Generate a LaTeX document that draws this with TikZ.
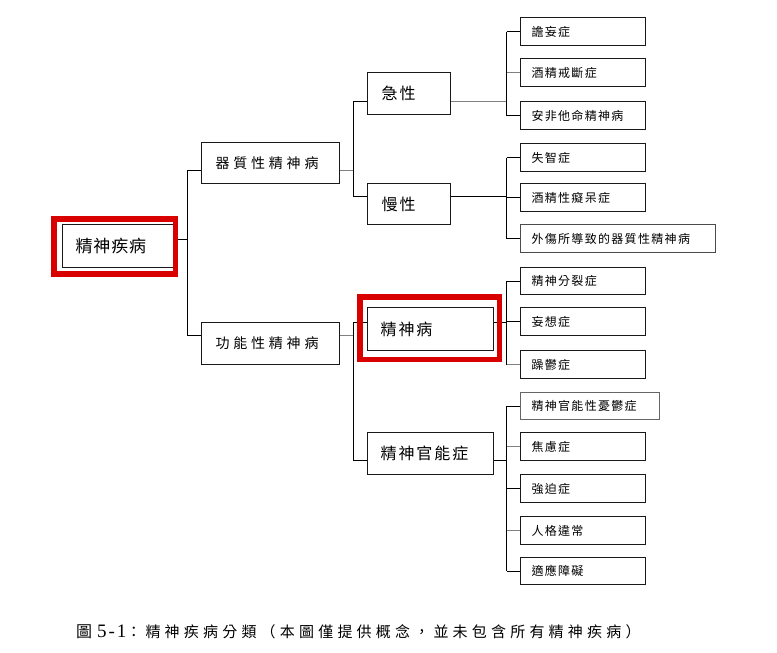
\documentclass[tikz,border=0pt]{standalone}
\usepackage{fontspec}
\newfontfamily\fRoot[LetterSpace=5]{Noto Sans CJK TC}
\newfontfamily\fOne[LetterSpace=27]{Noto Sans CJK TC}
\newfontfamily\fTwo[LetterSpace=12]{Noto Sans CJK TC}
\newfontfamily\fLeaf[LetterSpace=11]{Noto Sans CJK TC}
\newfontfamily\fCap[LetterSpace=28]{Noto Sans CJK TC}
\newfontfamily\fCapA{Noto Sans CJK TC}
\newfontfamily\fNum[LetterSpace=10]{Liberation Serif}
\begin{document}
\begin{tikzpicture}[x=1pt,y=-1pt,
  box/.style={draw=black!90, line width=1.2pt, anchor=north west, inner ysep=0pt, align=left},
  rootbox/.style={box, inner xsep=13pt, text width=86pt, minimum height=43pt, font=\fRoot\fontsize{17}{20}\selectfont},
  onebox/.style={box, inner xsep=14pt, text width=110pt, minimum height=41pt, font=\fOne\fontsize{14}{17}\selectfont},
  twobox/.style={box, inner xsep=14pt, text width=55pt, minimum height=42pt, font=\fTwo\fontsize{16}{19}\selectfont},
  twowide/.style={twobox, inner xsep=13pt, text width=100pt},
  leafbox/.style={box, line width=1pt, inner xsep=11pt, text width=103pt, minimum height=28pt, font=\fLeaf\fontsize{12}{14}\selectfont},
  link/.style={draw=black, line width=0.9pt},
  glink/.style={draw=black!50, line width=0.9pt},
  hl/.style={draw=red!85!black, line width=5.5pt}
]
\useasboundingbox[fill=white] (0,0) rectangle (777,653);

% root and level 1
\node[rootbox] (root) at (62,224) {精神疾病};
\node[onebox] (l1a) at (201,142) {器質性精神病};
\node[onebox, minimum height=42pt] (l1b) at (201,322) {功能性精神病};

% level 2
\node[twobox] (a) at (367,72) {急性};
\node[twobox, minimum height=41pt] (b) at (367,183) {慢性};
\node[twowide, minimum height=43pt] (c) at (367,307) {精神病};
\node[twowide] (d) at (367,432) {精神官能症};

% leaves
\node[leafbox] (a1) at (520,17) {譫妄症};
\node[leafbox] (a2) at (520,58) {酒精戒斷症};
\node[leafbox] (a3) at (520,101) {安非他命精神病};
\node[leafbox] (b1) at (520,143) {失智症};
\node[leafbox] (b2) at (520,183) {酒精性癡呆症};
\node[leafbox, text width=173pt, draw=black!70] (b3) at (520,224) {外傷所導致的器質性精神病};
\node[leafbox, minimum height=27pt] (c1) at (520,267) {精神分裂症};
\node[leafbox] (c2) at (520,307) {妄想症};
\node[leafbox] (c3) at (520,350) {躁鬱症};
\node[leafbox, text width=117pt, minimum height=27pt, draw=black!60] (d1) at (520,392) {精神官能性憂鬱症};
\node[leafbox] (d2) at (520,432) {焦慮症};
\node[leafbox] (d3) at (520,474) {強迫症};
\node[leafbox] (d4) at (520,516) {人格違常};
\node[leafbox, minimum height=27pt] (d5) at (520,557) {適應障礙};

% junction coordinates
\coordinate (j0) at (187,239);
\coordinate (j0t) at (187,170);
\coordinate (j0b) at (187,335);
\coordinate (j1t) at (353.3,101.7);
\coordinate (j1b) at (353.3,196.7);
\coordinate (j2t) at (353.3,322);
\coordinate (j2b) at (353.3,460);
\coordinate (ja) at (506.7,101.7);
\coordinate (jb) at (506.7,196.7);
\coordinate (jc) at (506.7,322);
\coordinate (jd) at (506.7,460);

% root connectors
\draw[link] (root.east|-j0) -- (j0);
\draw[link] (j0t) -- (j0b);
\draw[link] (j0t) -- (l1a.west|-j0t);
\draw[link] (j0b) -- (l1b.west|-j0b);

% level 1 connectors
\draw[glink] (l1a.east|-j0t) -- (j0t-|j1t);
\draw[link] (j1t) -- (j1b);
\draw[link] (j1t) -- (a.west|-j1t);
\draw[link] (j1b) -- (b.west|-j1b);
\draw[glink] (l1b.east|-j0b) -- (j0b-|j2t);
\draw[link] (j2t) -- (j2b);
\draw[link] (j2t) -- (c.west|-j2t);
\draw[link] (j2b) -- (d.west|-j2b);

% level 2 connectors
\draw[glink] (a.east|-ja) -- (ja);
\draw[link] (ja|-a1.west) -- (ja|-a3.west);
\draw[link] (ja|-a1.west) -- (a1.west);
\draw[glink] (ja|-a2.west) -- (a2.west);
\draw[link] (ja|-a3.west) -- (a3.west);

\draw[link] (b.east|-jb) -- (jb);
\draw[link] (jb|-b1.west) -- (jb|-b3.west);
\draw[link] (jb|-b1.west) -- (b1.west);
\draw[link] (jb|-b2.west) -- (b2.west);
\draw[link] (jb|-b3.west) -- (b3.west);

\draw[link] (c.east|-jc) -- (jc);
\draw[link] (jc|-c1.west) -- (jc|-c3.west);
\draw[link] (jc|-c1.west) -- (c1.west);
\draw[link] (jc|-c2.west) -- (c2.west);
\draw[glink] (jc|-c3.west) -- (c3.west);

\draw[link] (d.east|-jd) -- (jd);
\draw[link] (jd|-d1.west) -- (jd|-d5.west);
\draw[link] (jd|-d1.west) -- (d1.west);
\draw[glink] (jd|-d2.west) -- (d2.west);
\draw[link] (jd|-d3.west) -- (d3.west);
\draw[glink] (jd|-d4.west) -- (d4.west);
\draw[link] (jd|-d5.west) -- (d5.west);

% red highlights
\draw[hl] (53.8,218.8) rectangle (175.5,273.8);
\draw[hl] (360,297) rectangle (499.7,359.6);

% caption
\node[anchor=west, inner sep=0pt] (cap) at (76,632) {\fCapA\fontsize{16}{19}\selectfont 圖\hspace{5pt}\fNum\fontsize{19}{21}\selectfont 5-1\fCap\fontsize{15}{18}\selectfont ：精神疾病分類（本圖僅提供概念，並未包含所有精神疾病）};
\end{tikzpicture}
\end{document}
